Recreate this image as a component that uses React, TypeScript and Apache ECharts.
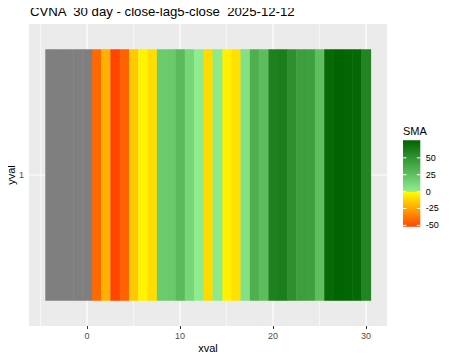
import { useEffect, useRef } from "react";
import * as echarts from "echarts";

const titleText = "CVNA  30 day - close-lag5-close  2025-12-12";
const naDays = [-4, -3, -2, -1, 0];
const days = [1, 2, 3, 4, 5, 6, 7, 8, 9, 10, 11, 12, 13, 14, 15, 16, 17, 18, 19, 20, 21, 22, 23, 24, 25, 26, 27, 28, 29, 30];
const sma = [-42, -22, -52, -44, -15, -3, -9.5, 19, 20, 28, 13, 1, -10, 2, -4, -8.7, 7, 34, 27, 60, 62, 52, 44, 43, 26, 73, 76, 75, 74, 58];
const xTicks = [0, 10, 20, 30];
const xMajorLines = [0, 10, 20, 30];
const xMinorLines = [-5, 5, 15, 25];
const yTicks = [1];
const legendBreaks = [50, 25, 0, -25, -50];
const smaMin = -52;
const smaMax = 76;

const FONT = "Liberation Sans, Arial, sans-serif";

export default function App() {
  const ref = useRef<HTMLDivElement>(null);
  useEffect(() => {
    if (!ref.current) return;
    const chart = echarts.init(ref.current, null, { renderer: "svg" });

    const negData = days.map((d, i) => [d, 1, sma[i]]).filter((p) => p[2] < 0);
    const posData = days.map((d, i) => [d, 1, sma[i]]).filter((p) => p[2] >= 0);
    const naData = naDays.map((d) => [d, 1]);

    const tileRender = (fixed?: string) => (params: any, api: any) => {
      const x = api.value(0);
      const y = api.value(1);
      const p1 = api.coord([x - 0.5, y + 0.5]);
      const p2 = api.coord([x + 0.5, y - 0.5]);
      return {
        type: "rect",
        shape: { x: p1[0], y: p1[1], width: p2[0] - p1[0] + 0.4, height: p2[1] - p1[1] },
        style: { fill: fixed || api.visual("color") },
      };
    };

    const gridLinesX = [
      ...xMajorLines.map((v) => [v, 1]),
      ...xMinorLines.map((v) => [v, 0]),
    ];

    const barTop = 140.3;
    const barH = 86.4;
    const barX = 403;
    const barW = 17.3;
    const zeroFrac = smaMax / (smaMax - smaMin);
    const yOf = (b: number) => barTop + ((smaMax - b) / (smaMax - smaMin)) * barH;

    const legendGraphics: any[] = [
      {
        type: "text",
        x: 30,
        y: 5,
        style: { text: titleText, fill: "#000", fontSize: 13.2, fontFamily: FONT, verticalAlign: "top" },
      },
      {
        type: "text",
        x: barX,
        y: 125,
        style: { text: "SMA", fill: "#000", fontSize: 11, fontFamily: FONT, verticalAlign: "top" },
      },
      {
        type: "rect",
        shape: { x: barX, y: barTop, width: barW, height: barH },
        style: {
          fill: new echarts.graphic.LinearGradient(0, 0, 0, 1, [
            { offset: 0, color: "#006400" },
            { offset: zeroFrac, color: "#90EE90" },
            { offset: zeroFrac, color: "#FFFF00" },
            { offset: 1, color: "#FF4500" },
          ]),
        },
      },
    ];
    legendBreaks.forEach((b) => {
      const y = yOf(b);
      legendGraphics.push({
        type: "line",
        shape: { x1: barX, y1: y, x2: barX + 3.5, y2: y },
        style: { stroke: "#FFFFFF", lineWidth: 1 },
      });
      legendGraphics.push({
        type: "line",
        shape: { x1: barX + barW - 3.5, y1: y, x2: barX + barW, y2: y },
        style: { stroke: "#FFFFFF", lineWidth: 1 },
      });
      legendGraphics.push({
        type: "text",
        x: 425.7,
        y: y,
        style: {
          text: String(b),
          fill: "#000",
          fontSize: 9,
          fontFamily: FONT,
          verticalAlign: "middle",
          align: "left",
        },
      });
    });

    chart.setOption({
      animation: false,
      textStyle: { fontFamily: FONT },
      grid: {
        left: 29,
        right: 63,
        top: 24,
        bottom: 34,
        show: true,
        backgroundColor: "#EBEBEB",
        borderWidth: 0,
        containLabel: false,
        outerBoundsMode: "none",
      },
      xAxis: {
        type: "value",
        min: -6.25,
        max: 32.25,
        name: "xval",
        nameLocation: "middle",
        nameGap: 16,
        nameMoveOverlap: false,
        nameTextStyle: { color: "#000", fontSize: 11, fontFamily: FONT, verticalAlign: "top" },
        axisLine: { show: false },
        axisTick: { show: true, customValues: xTicks, length: 3, lineStyle: { color: "#333333" } },
        axisLabel: { customValues: xTicks, color: "#4D4D4D", fontSize: 9, margin: 5, fontFamily: FONT },
        splitLine: { show: false },
      },
      yAxis: {
        type: "value",
        min: 0.4,
        max: 1.6,
        name: "yval",
        nameLocation: "middle",
        nameGap: 13,
        nameMoveOverlap: false,
        nameTextStyle: { color: "#000", fontSize: 11, fontFamily: FONT },
        axisLine: { show: false },
        axisTick: { show: true, customValues: yTicks, length: 3, lineStyle: { color: "#333333" } },
        axisLabel: { customValues: yTicks, color: "#4D4D4D", fontSize: 9, margin: 5, fontFamily: FONT },
        splitLine: { show: false },
      },
      visualMap: [
        {
          type: "continuous",
          show: false,
          seriesIndex: 1,
          dimension: 2,
          min: smaMin,
          max: 0,
          inRange: { color: ["#FF4500", "#FFFF00"] },
        },
        {
          type: "continuous",
          show: false,
          seriesIndex: 2,
          dimension: 2,
          min: 0,
          max: smaMax,
          inRange: { color: ["#90EE90", "#006400"] },
        },
      ],
      series: [
        {
          type: "custom",
          z: 1,
          silent: true,
          data: gridLinesX,
          renderItem: (params: any, api: any) => {
            const x = api.value(0);
            const major = api.value(1) === 1;
            const top = api.coord([x, 1.6]);
            const bot = api.coord([x, 0.4]);
            return {
              type: "line",
              shape: { x1: top[0], y1: top[1], x2: bot[0], y2: bot[1] },
              style: { stroke: "#FFFFFF", lineWidth: major ? 1.1 : 0.6 },
            };
          },
        },
        {
          type: "custom",
          z: 3,
          silent: true,
          data: negData,
          renderItem: tileRender(),
        },
        {
          type: "custom",
          z: 3,
          silent: true,
          data: posData,
          renderItem: tileRender(),
        },
        {
          type: "custom",
          z: 3,
          silent: true,
          data: naData,
          renderItem: tileRender("#7F7F7F"),
        },
        {
          type: "custom",
          z: 1,
          silent: true,
          data: yTicks.map((v) => [v]),
          renderItem: (params: any, api: any) => {
            const y = api.value(0);
            const l = api.coord([-6.25, y]);
            const r = api.coord([32.25, y]);
            return {
              type: "line",
              shape: { x1: l[0], y1: l[1], x2: r[0], y2: r[1] },
              style: { stroke: "#FFFFFF", lineWidth: 1.1 },
            };
          },
        },
      ],
      graphic: legendGraphics,
    });

    return () => chart.dispose();
  }, []);

  return <div ref={ref} style={{ width: 450, height: 360, margin: -8 }} />;
}
